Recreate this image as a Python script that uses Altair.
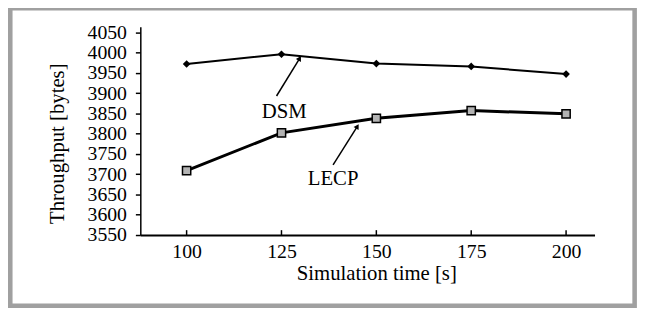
import altair as alt
import pandas as pd

# ---- data ----
sim_time = [100, 125, 150, 175, 200]
dsm = [3972, 3996, 3973, 3966, 3947]
lecp = [3709, 3802, 3838, 3857, 3849]
y_ticks = [3550, 3600, 3650, 3700, 3750, 3800, 3850, 3900, 3950, 4000, 4050]

# annotations (data coordinates)
label_text = ["DSM", "LECP"]
label_x = [125.7, 138.6]
label_y = [3839, 3674]
arrow_x = [123.7, 138.6]
arrow_y = [3893, 3723]
arrow_x2 = [129.8, 145.0]
arrow_y2 = [3986, 3818]
arrow_angle = [30, 31]

FONT = "Liberation Serif"

df = pd.DataFrame({"t": sim_time, "dsm": dsm, "lecp": lecp})
ann = pd.DataFrame({"text": label_text, "lx": label_x, "ly": label_y,
                    "ax": arrow_x, "ay": arrow_y, "ax2": arrow_x2, "ay2": arrow_y2,
                    "ang": arrow_angle})

xs = alt.Scale(domain=[87.8, 207.5], nice=False, zero=False)
ys = alt.Scale(domain=[3550, 4064], nice=False, zero=False)

x_axis = alt.Axis(values=sim_time, format="d", ticks=False, grid=False, labelFont=FONT,
                  labelFontSize=20, labelColor="black", labelPadding=7, domainColor="black",
                  domainWidth=2, title="Simulation time [s]", titleFont=FONT, titleFontSize=21,
                  titleFontWeight="normal", titleColor="black", titleBaseline="alphabetic",
                  titleY=45, titleX=239)
y_axis = alt.Axis(values=y_ticks, format="d", grid=False, labelFont=FONT, labelFontSize=20,
                  labelColor="black", labelPadding=9, tickSize=5, tickColor="black",
                  tickWidth=1.5, domainColor="black", domainWidth=1.5, labelOverlap=False,
                  title="Throughput [bytes]", titleFont=FONT, titleFontSize=21,
                  titleFontWeight="normal", titleColor="black", titleBaseline="middle",
                  titleX=-84, titleY=118)


def X(f):
    return alt.X(f, type="quantitative", scale=xs, axis=x_axis)


def Y(f):
    return alt.Y(f, type="quantitative", scale=ys, axis=y_axis)


base = alt.Chart(df)

xticks = base.transform_calculate(y0="3550", y1="3562").mark_rule(
    color="black", strokeWidth=1.5).encode(x=X("t"), y=Y("y0"), y2="y1:Q")

dsm_line = base.mark_line(color="black", strokeWidth=2).encode(x=X("t"), y=Y("dsm"))
dsm_pts = base.mark_point(shape="diamond", filled=True, color="black", size=60,
                          opacity=1).encode(x=X("t"), y=Y("dsm"))
lecp_line = base.mark_line(color="black", strokeWidth=3).encode(x=X("t"), y=Y("lecp"))
lecp_pts = base.mark_point(shape="square", filled=True, fill="#b3b3b3", stroke="black",
                           strokeWidth=1.5, size=70, opacity=1).encode(x=X("t"), y=Y("lecp"))

ann_base = alt.Chart(ann)
labels = ann_base.mark_text(font=FONT, fontSize=21, color="black", baseline="alphabetic",
                            align="center").encode(x=X("lx"), y=Y("ly"), text="text:N")
arrows = ann_base.mark_rule(color="black", strokeWidth=1.5).encode(
    x=X("ax"), y=Y("ay"), x2="ax2:Q", y2="ay2:Q")
heads = ann_base.mark_point(shape="triangle-up", filled=True, color="black", size=35,
                            opacity=1).encode(x=X("ax2"), y=Y("ay2"),
                                              angle=alt.Angle("ang:Q", scale=None))

frame = alt.Chart(pd.DataFrame({"a": [0]})).mark_rect(
    fill="transparent", stroke="#a0a0a0", strokeWidth=4.6).encode(
    x=alt.value(-131.7), x2=alt.value(500.6), y=alt.value(-18.7), y2=alt.value(282.6))

chart = alt.layer(xticks, lecp_line, lecp_pts, dsm_line, dsm_pts, arrows, heads, labels, frame).properties(
    width=460, height=211,
    autosize=alt.AutoSizeParams(type="none"),
    padding={"left": 134, "top": 17, "right": 43, "bottom": 73},
    background="white",
).configure_view(strokeWidth=0).configure_axis(
    labelFont=FONT, titleFont=FONT, labelFontSize=20, titleFontSize=21
).configure_text(font=FONT)

chart.save("out.html", embed_options={"renderer": "svg", "actions": False})
